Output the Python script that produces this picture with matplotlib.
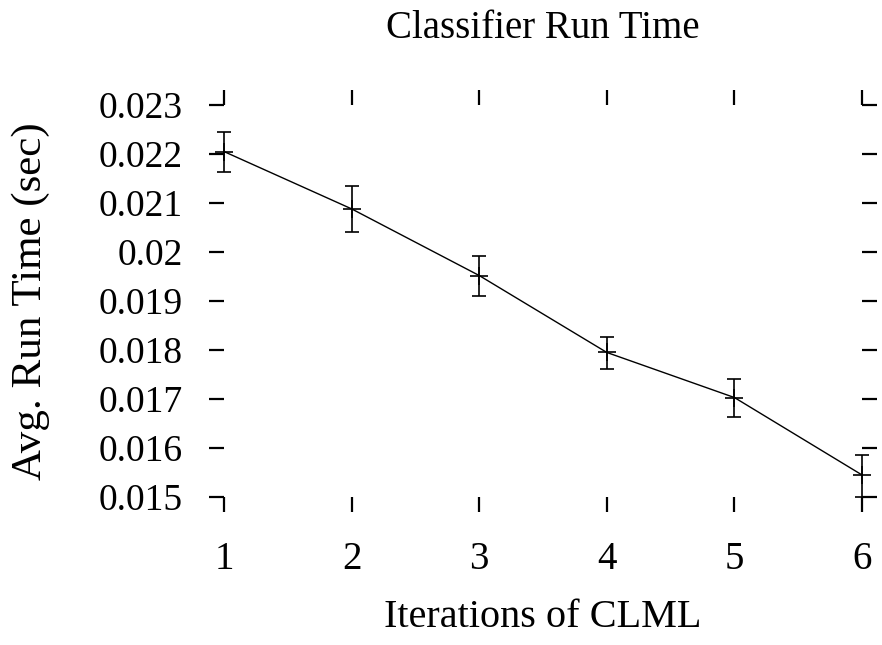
import matplotlib
matplotlib.use("Agg")
import matplotlib.pyplot as plt

iterations = [1, 2, 3, 4, 5, 6]
run_time = [0.02205, 0.02088, 0.01952, 0.01795, 0.01703, 0.01545]
err_low = [0.02163, 0.02041, 0.01911, 0.01762, 0.01664, 0.01501]
err_high = [0.02245, 0.02135, 0.01991, 0.01827, 0.01741, 0.01585]
xticks = [1, 2, 3, 4, 5, 6]
yticks = [0.015, 0.016, 0.017, 0.018, 0.019, 0.02, 0.021, 0.022, 0.023]
ytick_labels = ["0.015", "0.016", "0.017", "0.018", "0.019", "0.02", "0.021", "0.022", "0.023"]

plt.rcParams['font.family'] = ['Liberation Serif', 'DejaVu Serif']

fig = plt.figure(figsize=(8.82, 6.45), dpi=100)
ax = fig.add_axes([224/882, 1-497/645, (862-224)/882, (497-105)/645])

yerr = [[r - l for r, l in zip(run_time, err_low)], [h - r for r, h in zip(run_time, err_high)]]
ax.errorbar(iterations, run_time, yerr=yerr, fmt='none', ecolor='black', elinewidth=1.2,
            capsize=5, capthick=1.2, clip_on=False)
ax.plot(iterations, run_time, color='black', linewidth=1.0, marker='+', markersize=13,
        markeredgewidth=1.2, clip_on=False)

ax.set_xlim(1, 6)
ax.set_ylim(0.015, 0.023)
ax.set_xticks(xticks)
ax.set_xticklabels([str(x) for x in xticks])
ax.set_yticks(yticks)
ax.set_yticklabels(ytick_labels)

for s in ax.spines.values():
    s.set_visible(False)

ax.tick_params(axis='both', which='both', direction='out', length=10.5, width=1.6,
               labelsize=28, colors='black')
ax.tick_params(axis='x', top=True, bottom=True, pad=21)
ax.tick_params(axis='y', left=True, right=True, pad=19, labelright=False, labelsize=27)

ax.set_xlabel("Iterations of CLML", fontsize=29)
ax.xaxis.set_label_coords(0.5, (497-627)/392)
ax.xaxis.label.set_va('baseline')
ax.set_ylabel("Avg. Run Time (sec)", fontsize=31)
ax.yaxis.set_label_coords((31-224)/638, 0.5)
ax.yaxis.label.set_va('center')
fig.text((224+862)/2/882, 1-38/645, "Classifier Run Time", ha='center', va='baseline', fontsize=28)

fig.savefig("out.png", dpi=100)
